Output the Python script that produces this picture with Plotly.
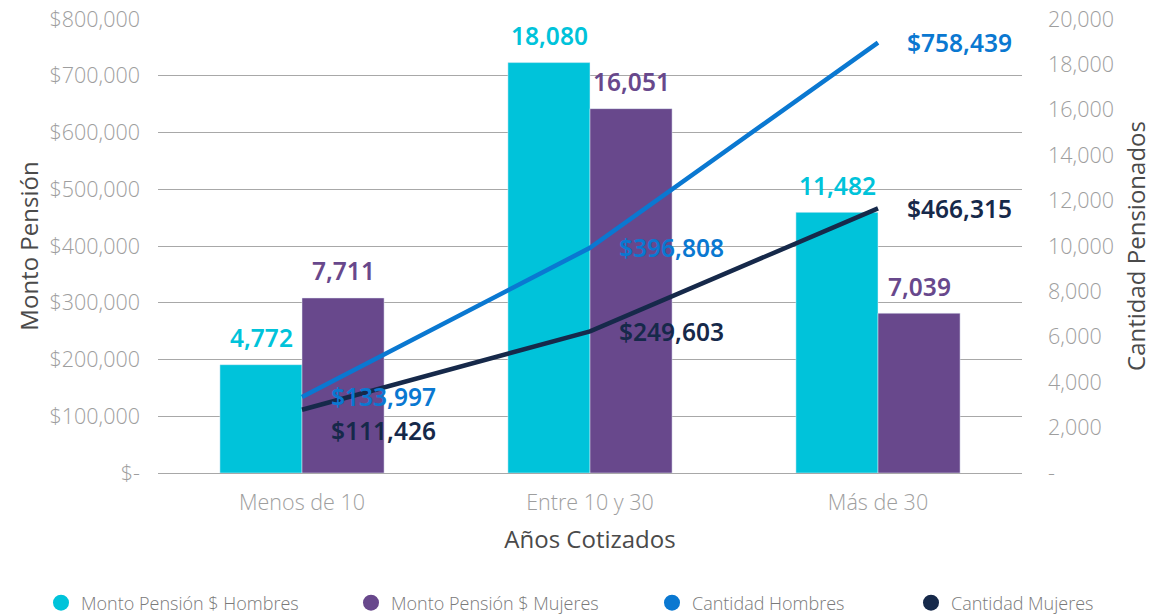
import plotly.graph_objects as go

categories = ["Menos de 10", "Entre 10 y 30", "Más de 30"]
bar_hombres = [4772, 18080, 11482]
bar_mujeres = [7711, 16051, 7039]
line_hombres = [133997, 396808, 758439]
line_mujeres = [111426, 249603, 466315]

left_tickvals = [0, 100000, 200000, 300000, 400000, 500000, 600000, 700000, 800000]
left_ticktext = ["$-", "$100,000", "$200,000", "$300,000", "$400,000", "$500,000",
                 "$600,000", "$700,000", "$800,000"]
right_tickvals = [0, 2000, 4000, 6000, 8000, 10000, 12000, 14000, 16000, 18000, 20000]
right_ticktext = ["-", "2,000", "4,000", "6,000", "8,000", "10,000", "12,000",
                  "14,000", "16,000", "18,000", "20,000"]

legend_names = ["Monto Pensión $ Hombres", "Monto Pensión $ Mujeres",
                "Cantidad Hombres", "Cantidad Mujeres"]

C_CYAN = "#00C3DA"
C_PURPLE = "#68488C"
C_BLUE = "#0A78D1"
C_NAVY = "#16294A"
colors = [C_CYAN, C_PURPLE, C_BLUE, C_NAVY]

W, H = 1154, 608  # page body keeps an 8px margin inside the 1162x616 window

TICK_FONT = dict(family="Open Sans", size=21.5, color="#9E9E9E", weight=300)
TITLE_FONT = dict(family="Open Sans", size=24, color="#4A4A4A")
LBL = "Noto Sans"
LBL_SIZE = 24.5

fig = go.Figure()

# bars on the main (right-side) axis, lines on the overlaying (left-side) axis so they draw on top
fig.add_trace(go.Bar(x=categories, y=bar_hombres, name=legend_names[0],
                     marker_color=C_CYAN, yaxis="y", showlegend=False))
fig.add_trace(go.Bar(x=categories, y=bar_mujeres, name=legend_names[1],
                     marker_color=C_PURPLE, yaxis="y", showlegend=False))
fig.add_trace(go.Scatter(x=categories, y=line_hombres, name=legend_names[2],
                         mode="lines", line=dict(color=C_BLUE, width=4.5), yaxis="y2",
                         showlegend=False))
fig.add_trace(go.Scatter(x=categories, y=line_mujeres, name=legend_names[3],
                         mode="lines", line=dict(color=C_NAVY, width=4.5), yaxis="y2",
                         showlegend=False))

# legend entries with round markers, each in its own legend box
legend_ids = ["legend", "legend2", "legend3", "legend4"]
for name, col, lid in zip(legend_names, colors, legend_ids):
    fig.add_trace(go.Scatter(x=[None], y=[None], mode="markers", name=name, legend=lid,
                             yaxis="y2", marker=dict(color=col, size=18, symbol="circle")))

annotations = []
for i, cat in enumerate(categories):
    annotations.append(dict(x=cat, y=bar_hombres[i], xref="x", yref="y", xshift=-41, yshift=27,
                            text=f"{bar_hombres[i]:,}", showarrow=False,
                            font=dict(family=LBL, size=LBL_SIZE, color=C_CYAN, weight=600)))
    annotations.append(dict(x=cat, y=bar_mujeres[i], xref="x", yref="y", xshift=41, yshift=27,
                            text=f"{bar_mujeres[i]:,}", showarrow=False,
                            font=dict(family=LBL, size=LBL_SIZE, color=C_PURPLE, weight=600)))
    annotations.append(dict(x=cat, y=line_hombres[i], xref="x", yref="y2", xshift=27, yshift=0,
                            xanchor="left", text=f"${line_hombres[i]:,}", showarrow=False,
                            font=dict(family=LBL, size=LBL_SIZE, color=C_BLUE, weight=600)))
    annotations.append(dict(x=cat, y=line_mujeres[i], xref="x", yref="y2", xshift=27,
                            yshift=-21 if i == 0 else 0,
                            xanchor="left", text=f"${line_mujeres[i]:,}", showarrow=False,
                            font=dict(family=LBL, size=LBL_SIZE, color=C_NAVY, weight=600)))

legend_style = dict(orientation="h", xref="container", yref="container",
                    xanchor="left", yanchor="middle", y=1 - 595 / H,
                    font=dict(family="Open Sans", size=18, color="#7A7A7A", weight=300),
                    bgcolor="rgba(0,0,0,0)")
legend_x = [33, 343, 644, 903]

fig.update_layout(
    width=W, height=H,
    margin=dict(l=150, r=140, t=11, b=143, autoexpand=False),
    paper_bgcolor="white", plot_bgcolor="white",
    barmode="group", bargap=0.43, bargroupgap=0,
    font=dict(family="Open Sans", color="#555555"),
    xaxis=dict(
        tickfont=TICK_FONT, showgrid=False, showline=False, ticks="", automargin=False,
        ticklabelstandoff=14,
        title=dict(text="Años Cotizados", font=TITLE_FONT, standoff=16),
    ),
    yaxis=dict(
        range=[0, 20000], tickvals=right_tickvals, ticktext=right_ticktext,
        side="right", showgrid=False, zeroline=False, automargin=False,
        tickfont=TICK_FONT, ticks="", ticklabelstandoff=25, ticklabeloverflow="allow",
        title=dict(text="Cantidad Pensionados", font=TITLE_FONT, standoff=15),
    ),
    yaxis2=dict(
        range=[0, 800000], tickvals=left_tickvals, ticktext=left_ticktext,
        overlaying="y", side="left", automargin=False,
        tickfont=TICK_FONT, showgrid=True, gridcolor="#A8A8A8", gridwidth=1.3,
        zeroline=True, zerolinecolor="#A8A8A8", zerolinewidth=1.3, ticks="",
        ticklabelstandoff=17, ticklabeloverflow="allow",
        title=dict(text="Monto Pensión", font=TITLE_FONT, standoff=4),
    ),
    legend=dict(x=legend_x[0] / W, **legend_style),
    legend2=dict(x=legend_x[1] / W, **legend_style),
    legend3=dict(x=legend_x[2] / W, **legend_style),
    legend4=dict(x=legend_x[3] / W, **legend_style),
    annotations=annotations,
)

fig.write_html("out.html")
